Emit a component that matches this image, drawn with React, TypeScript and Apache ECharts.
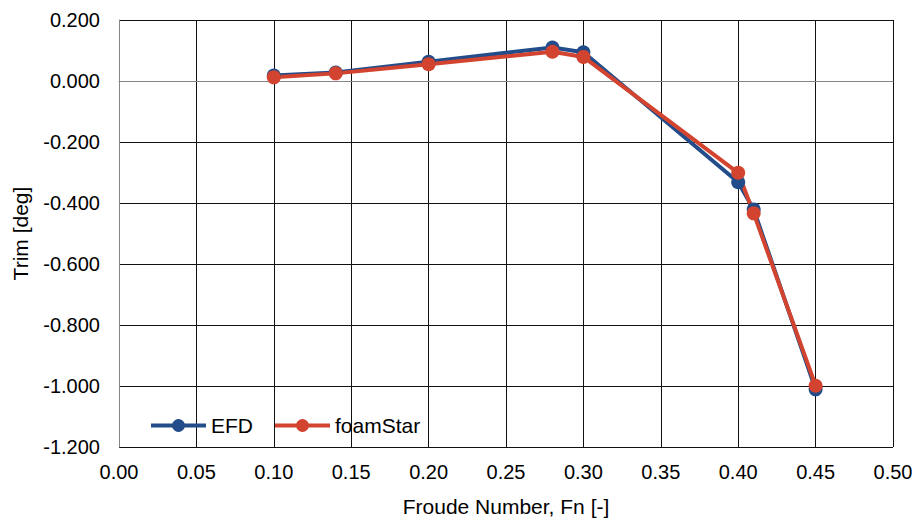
import React, { useEffect, useRef } from "react";
import * as echarts from "echarts";

// Froude numbers of the test runs
const froude = [0.1, 0.14, 0.2, 0.28, 0.3, 0.4, 0.41, 0.45];
// Trim measured in the towing tank
const efdTrim = [0.018, 0.028, 0.063, 0.11, 0.094, -0.332, -0.421, -1.011];
// Trim computed with foamStar
const foamStarTrim = [0.012, 0.025, 0.055, 0.096, 0.079, -0.301, -0.434, -0.999];

const FONT = "'Liberation Sans', Arial, sans-serif";
const BLUE = "#224C8A";
const RED = "#D2442F";

export default function App() {
  const ref = useRef<HTMLDivElement>(null);

  useEffect(() => {
    if (!ref.current) return;
    const chart = echarts.init(ref.current, undefined, { renderer: "svg" });
    const mkSeries = (name: string, values: number[], color: string) => ({
      name,
      type: "line",
      data: froude.map((f, i) => [f, values[i]]),
      symbol: "circle",
      symbolSize: 14,
      itemStyle: { color },
      lineStyle: { color, width: 4 },
    });
    chart.setOption({
      animation: false,
      backgroundColor: "#fff",
      grid: {
        left: 119,
        top: 20,
        right: 24,
        bottom: 71,
        containLabel: false,
        outerBoundsMode: "none",
      },
      legend: {
        left: 149,
        top: 415,
        padding: 0,
        itemWidth: 55,
        itemHeight: 16,
        itemGap: 20,
        lineStyle: { width: 4 },
        textStyle: { fontFamily: FONT, fontSize: 21, color: "#000" },
        data: ["EFD", "foamStar"],
      },
      xAxis: {
        type: "value",
        min: 0,
        max: 0.5,
        interval: 0.05,
        name: "Froude Number, Fn [-]",
        nameLocation: "middle",
        nameGap: 49,
        nameTextStyle: { fontFamily: FONT, fontSize: 21, color: "#000" },
        axisLine: { show: true, lineStyle: { color: "#868686", width: 1 } },
        axisTick: { show: false },
        axisLabel: {
          fontFamily: FONT,
          fontSize: 20,
          color: "#000",
          margin: 15,
          formatter: (v: number) => v.toFixed(2),
        },
        splitLine: { show: true, lineStyle: { color: "#111", width: 1 } },
      },
      yAxis: {
        type: "value",
        min: -1.2,
        max: 0.2,
        interval: 0.2,
        name: "Trim [deg]",
        nameLocation: "middle",
        nameGap: 88,
        nameRotate: 90,
        nameTextStyle: { fontFamily: FONT, fontSize: 21, color: "#000" },
        axisLine: { show: true, lineStyle: { color: "#868686", width: 1 } },
        axisTick: { show: false },
        axisLabel: {
          fontFamily: FONT,
          fontSize: 20,
          color: "#000",
          margin: 19,
          formatter: (v: number) => v.toFixed(3),
        },
        splitLine: { show: true, lineStyle: { color: "#111", width: 1 } },
      },
      series: [mkSeries("EFD", efdTrim, BLUE), mkSeries("foamStar", foamStarTrim, RED)],
    });
    return () => chart.dispose();
  }, []);

  return <div ref={ref} style={{ width: 917, height: 518, position: "absolute", left: 0, top: 0 }} />;
}
